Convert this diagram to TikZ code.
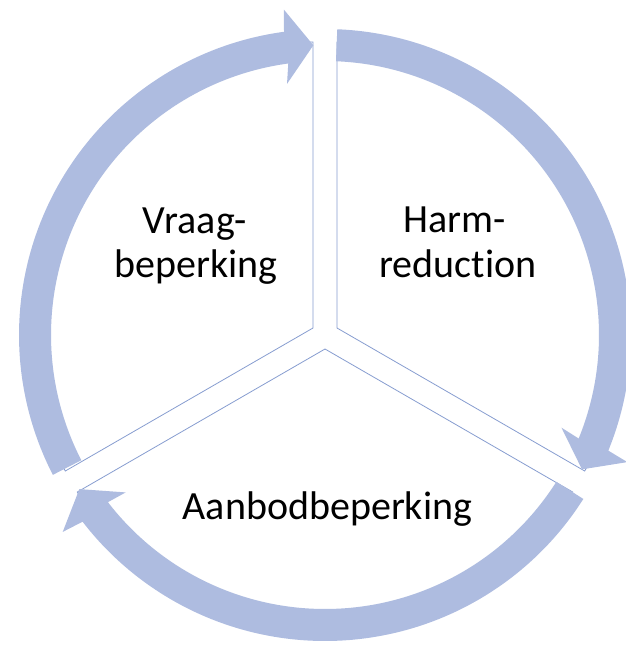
\documentclass[tikz,border=0pt]{standalone}
\usepackage{fontspec}
\setmainfont{Carlito}[Ligatures=NoCommon]
\definecolor{ringcol}{RGB}{174,188,224}
\definecolor{slicecol}{RGB}{135,157,208}
\tikzset{
  ringarrow/.style={fill=ringcol, draw=none},
  slicebox/.style={draw=slicecol, line width=0.8pt, fill=white},
  lbl/.style={anchor=base, inner sep=0pt, font=\fontsize{40}{44}\selectfont, text=black}
}
\begin{document}
\begin{tikzpicture}
\useasboundingbox (0pt,0pt) rectangle (625pt,-646pt);
% pie slices
\draw[slicebox] (313pt,-328pt) -- ++(90:286pt) arc[start angle=90,end angle=210,radius=286pt] -- cycle;
\draw[slicebox] (337pt,-328pt) -- ++(-30:286pt) arc[start angle=-30,end angle=90,radius=286pt] -- cycle;
\draw[slicebox] (325pt,-349pt) -- ++(210:286pt) arc[start angle=210,end angle=330,radius=286pt] -- cycle;
% circular arrows
\begin{scope}[shift={(325pt,-335pt)}]
  % left arrow
  \fill[ringarrow] (207.2:306pt) arc[start angle=207.2,end angle=97.7,radius=306pt]
    -- (97.2:328pt) -- (92.3:290pt) -- (98.6:254pt) -- (97.7:274pt)
    arc[start angle=97.7,end angle=207.2,radius=274pt] -- cycle;
  % right arrow
  \fill[ringarrow] (87.7:306pt) arc[start angle=87.7,end angle=-22.2,radius=306pt]
    -- (-22.8:328pt) -- (-27.6:290pt) -- (-21.4:254pt) -- (-22.2:274pt)
    arc[start angle=-22.2,end angle=87.7,radius=274pt] -- cycle;
  % bottom arrow
  \fill[ringarrow] (-32.4:306pt) arc[start angle=-32.4,end angle=-142.4,radius=306pt]
    -- (-143.1:328pt) -- (-147.9:290pt) -- (-141.7:254pt) -- (-142.4:274pt)
    arc[start angle=-142.4,end angle=-32.4,radius=274pt] -- cycle;
\end{scope}
% labels
\node[lbl] (vraag1) at (195pt,-233pt) {Vraag-};
\node[lbl] (vraag2) at (196pt,-277pt) {beperking};
\node[lbl] (harm1) at (455pt,-232pt) {Harm-};
\node[lbl] (harm2) at (458pt,-277pt) {reduction};
\node[lbl] (aanbod) at (327.5pt,-519pt) {Aanbodbeperking};
\end{tikzpicture}
\end{document}
